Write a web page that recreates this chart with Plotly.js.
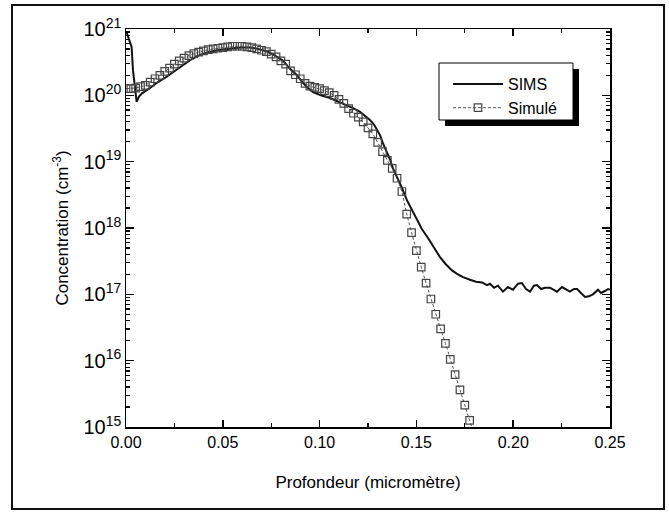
<!DOCTYPE html>
<html>
<head>
<meta charset="utf-8">
<script src="https://cdn.plot.ly/plotly-3.0.1.min.js"></script>
<style>
html,body{margin:0;padding:0;background:#fff;}
#wrap{position:relative;width:669px;height:512px;}
#chart{position:absolute;left:0;top:0;width:669px;height:512px;}
#frame{position:absolute;left:11px;top:4px;width:650px;height:502px;border:2px solid #111;pointer-events:none;}
</style>
</head>
<body>
<div id="wrap"><div id="chart"></div><div id="frame"></div></div>
<script>
// SIMS measured profile (depth in micrometre, log10 of concentration in cm^-3)
const simsDepth = [0.0003,0.0029,0.0036,0.0055,0.0067,0.0083,0.0124,0.0165,0.0210,0.0253,0.0294,0.0336,0.0382,0.0424,0.0470,0.0511,0.0553,0.0594,0.0640,0.0682,0.0729,0.0770,0.0811,0.0847,0.0878,0.0914,0.0940,0.0966,0.1007,0.1054,0.1095,0.1141,0.1178,0.1209,0.1240,0.1260,0.1281,0.1296,0.1312,0.1327,0.1348,0.1364,0.1379,0.1400,0.1426,0.1451,0.1477,0.1503,0.1529,0.1560,0.1591,0.1622,0.1653,0.1684,0.1710,0.1741,0.1777,0.1808,0.1839,0.1865,0.1880,0.1901,0.1921,0.1947,0.1973,0.1999,0.2025,0.2045,0.2066,0.2087,0.2107,0.2123,0.2144,0.2164,0.2190,0.2211,0.2226,0.2252,0.2273,0.2293,0.2314,0.2330,0.2350,0.2371,0.2391,0.2412,0.2438,0.2453,0.2474,0.2490,0.2500];
const simsLog = [20.95,20.73,20.38,19.90,19.98,20.03,20.11,20.20,20.28,20.37,20.46,20.54,20.61,20.65,20.68,20.70,20.71,20.72,20.72,20.70,20.66,20.60,20.52,20.40,20.32,20.19,20.11,20.05,20.00,19.96,19.91,19.85,19.80,19.75,19.68,19.63,19.56,19.48,19.40,19.28,19.15,19.03,18.90,18.77,18.60,18.42,18.27,18.12,17.98,17.85,17.70,17.56,17.45,17.36,17.31,17.26,17.22,17.19,17.18,17.14,17.16,17.10,17.13,17.04,17.11,17.07,17.16,17.17,17.08,17.04,17.13,17.14,17.08,17.10,17.10,17.07,17.04,17.11,17.07,17.04,17.08,17.08,17.02,16.96,16.97,17.00,17.07,17.02,17.05,17.08,17.07];

// Simulated profile
const simDepth = [0.0000,0.0025,0.0050,0.0075,0.0100,0.0125,0.0150,0.0175,0.0200,0.0225,0.0250,0.0275,0.0300,0.0325,0.0350,0.0375,0.0400,0.0425,0.0450,0.0475,0.0500,0.0525,0.0550,0.0575,0.0600,0.0625,0.0650,0.0675,0.0700,0.0725,0.0750,0.0775,0.0800,0.0825,0.0850,0.0875,0.0900,0.0925,0.0950,0.0975,0.1000,0.1025,0.1050,0.1075,0.1100,0.1125,0.1150,0.1175,0.1200,0.1225,0.1250,0.1275,0.1300,0.1325,0.1350,0.1375,0.1400,0.1425,0.1450,0.1475,0.1500,0.1525,0.1550,0.1575,0.1600,0.1625,0.1650,0.1675,0.1700,0.1725,0.1750,0.1775,0.1800];
const simLog = [20.10,20.10,20.11,20.13,20.15,20.20,20.25,20.30,20.36,20.41,20.47,20.52,20.56,20.60,20.63,20.65,20.67,20.69,20.70,20.71,20.72,20.73,20.74,20.74,20.74,20.73,20.72,20.70,20.68,20.66,20.62,20.58,20.52,20.47,20.37,20.31,20.25,20.18,20.14,20.12,20.10,20.07,20.04,20.00,19.94,19.88,19.80,19.73,19.67,19.60,19.51,19.42,19.29,19.15,19.02,18.90,18.75,18.55,18.21,17.93,17.66,17.41,17.17,16.93,16.70,16.48,16.26,16.02,15.79,15.56,15.33,15.10,14.87];

const seriesNames = ["SIMS", "Simulé"];
const xTitle = "Profondeur (micromètre)";
const yTitle = "Concentration (cm<sup>-3</sup>)";

const toConc = a => a.map(v => Math.pow(10, v));

const traces = [
  {x: simsDepth, y: toConc(simsLog), name: seriesNames[0], type: "scatter", mode: "lines",
   line: {color: "#111", width: 2}, cliponaxis: true},
  {x: simDepth, y: toConc(simLog), name: seriesNames[1], type: "scatter", mode: "lines+markers",
   line: {color: "#555", width: 1, dash: "3px,2px"},
   marker: {symbol: "square-open", size: 7.5, color: "#444", line: {width: 1.2, color: "#444"}},
   cliponaxis: true}
];

const px2x = p => (p - 126) / 484;
const py2y = p => (427 - p) / 398;

const layout = {
  width: 669, height: 512,
  margin: {l: 126, r: 59, t: 29, b: 85},
  paper_bgcolor: "rgba(0,0,0,0)", plot_bgcolor: "#fff",
  font: {family: "Liberation Sans, Arial, sans-serif", color: "#000", size: 16},
  showlegend: true,
  legend: {x: px2x(448), y: py2y(67), xanchor: "left", yanchor: "top",
    bgcolor: "rgba(0,0,0,0)", borderwidth: 0, font: {size: 16}, itemwidth: 50,
    tracegroupgap: 0},
  xaxis: {range: [0, 0.25], dtick: 0.05, tick0: 0, tickformat: ".2f",
    ticks: "inside", ticklen: 7, tickwidth: 1.5, tickcolor: "#000",
    showline: true, linecolor: "#000", linewidth: 1.5, mirror: "allticks",
    showgrid: false, zeroline: false,
    minor: {ticks: "inside", ticklen: 4, dtick: 0.025, tickcolor: "#000", tickwidth: 1.2, showgrid: false},
    tickfont: {size: 16},
    title: {text: xTitle, font: {size: 17}, standoff: 26}},
  yaxis: {type: "log", range: [15, 21], dtick: 1, exponentformat: "power",
    ticks: "inside", ticklen: 8, tickwidth: 1.5, tickcolor: "#000",
    showline: true, linecolor: "#000", linewidth: 1.5, mirror: "allticks",
    showgrid: false, zeroline: false,
    minor: {ticks: "inside", ticklen: 4, dtick: "D1", tickcolor: "#000", tickwidth: 1.2, showgrid: false},
    tickfont: {size: 16},
    title: {text: yTitle, font: {size: 17}, standoff: 10}},
  shapes: [
    {type: "rect", xref: "paper", yref: "paper", x0: px2x(445), x1: px2x(579), y0: py2y(69), y1: py2y(126),
     fillcolor: "#000", line: {width: 0}, layer: "above"},
    {type: "rect", xref: "paper", yref: "paper", x0: px2x(439), x1: px2x(573), y0: py2y(63), y1: py2y(120),
     fillcolor: "#fff", line: {width: 1, color: "#000"}, layer: "above"}
  ]
};

Plotly.newPlot("chart", traces, layout, {displayModeBar: false, staticPlot: true});
</script>
</body>
</html>
